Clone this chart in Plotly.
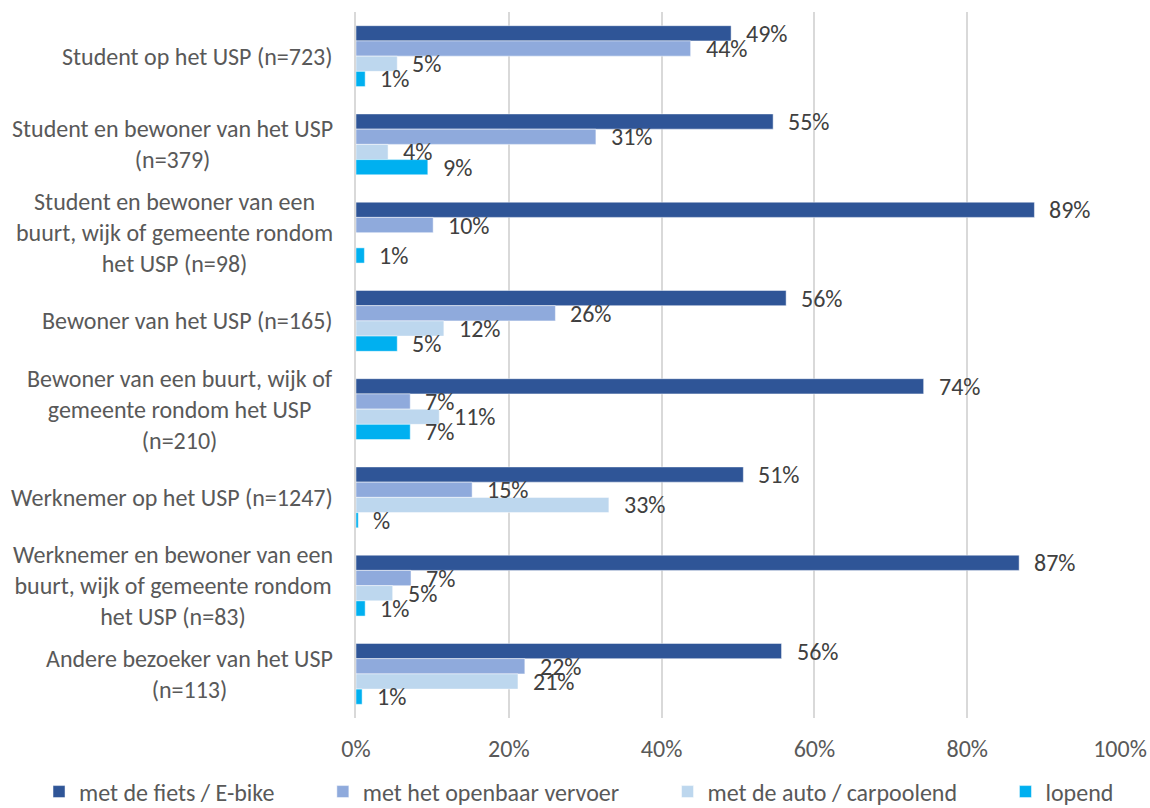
import plotly.graph_objects as go

categories = [
    "Student op het USP (n=723)",
    "Student en bewoner van het USP<br>(n=379)",
    "Student en bewoner van een<br>buurt, wijk of gemeente rondom<br>het USP (n=98)",
    "Bewoner van het USP (n=165)",
    "Bewoner van een buurt, wijk of<br>gemeente rondom het USP<br>(n=210)",
    "Werknemer op het USP (n=1247)",
    "Werknemer en bewoner van een<br>buurt, wijk of gemeente rondom<br>het USP (n=83)",
    "Andere bezoeker van het USP<br>(n=113)",
]

series_names = ["met de fiets / E-bike", "met het openbaar vervoer",
                "met de auto / carpoolend", "lopend"]

fiets = [49.1, 54.6, 88.8, 56.3, 74.3, 50.7, 86.8, 55.7]
ov = [43.8, 31.4, 10.1, 26.1, 7.1, 15.2, 7.2, 22.1]
auto = [5.4, 4.2, 0.0, 11.5, 10.9, 33.1, 4.8, 21.2]
lopend = [1.2, 9.4, 1.1, 5.4, 7.1, 0.3, 1.2, 0.8]

fiets_labels = ["49%", "55%", "89%", "56%", "74%", "51%", "87%", "56%"]
ov_labels = ["44%", "31%", "10%", "26%", "7%", "15%", "7%", "22%"]
auto_labels = ["5%", "4%", "", "12%", "11%", "33%", "5%", "21%"]
lopend_labels = ["1%", "9%", "1%", "5%", "7%", "%", "1%", "1%"]

x_ticks = [0, 20, 40, 60, 80, 100]
x_tick_labels = ["0%", "20%", "40%", "60%", "80%", "100%"]

colors = ["#2F5597", "#8FAADC", "#BDD7EE", "#00B0F0"]
legend_pad = ["\u00a0" * 8, "\u00a0" * 8, "\u00a0" * 8, ""]

FONT = "Calibri, Carlito, Lato, sans-serif"
FS = 24

values = [fiets, ov, auto, lopend]
labels = [fiets_labels, ov_labels, auto_labels, lopend_labels]

positions = list(range(len(categories)))
bar_w = 0.69 / 4

fig = go.Figure()
annotations = []
for i, (name, vals, labs, col) in enumerate(zip(series_names, values, labels, colors)):
    off = -2 * bar_w + i * bar_w
    fig.add_trace(go.Bar(
        name=name + legend_pad[i],
        x=vals, y=positions, orientation="h",
        width=bar_w, offset=off,
        marker=dict(color=col, line=dict(color="rgba(255,255,255,0.6)", width=0.8)),
        hoverinfo="x+name",
    ))
    for p, v, t in zip(positions, vals, labs):
        if t:
            annotations.append(dict(
                x=v, y=p + off + bar_w / 2, xref="x", yref="y",
                text=t, showarrow=False, xanchor="left", yanchor="middle",
                xshift=13, font=dict(family=FONT, size=FS, color="#404040"),
            ))

for p, c in zip(positions, categories):
    annotations.append(dict(
        x=0, y=p, xref="paper", yref="y", text=c, showarrow=False,
        xanchor="right", yanchor="middle", align="center", xshift=-21,
        font=dict(family=FONT, size=FS, color="#595959"),
    ))

fig.update_layout(
    width=1150, height=808,
    margin=dict(l=356, r=30, t=12, b=90, autoexpand=False),
    paper_bgcolor="white", plot_bgcolor="white",
    barmode="overlay",
    showlegend=True,
    legend=dict(
        orientation="h", xref="paper", yref="paper",
        x=-0.4149, xanchor="left", y=-0.1048, yanchor="middle",
        bgcolor="rgba(0,0,0,0)",
        font=dict(family=FONT, size=FS, color="#595959"),
        itemclick=False, itemdoubleclick=False,
        traceorder="normal",
    ),
    annotations=annotations,
    font=dict(family=FONT, size=FS, color="#595959"),
)

fig.update_xaxes(
    range=[0, 100], tickvals=x_ticks, ticktext=x_tick_labels,
    showgrid=True, gridcolor="#D9D9D9", gridwidth=1.5,
    zeroline=False, showline=False,
    ticks="", ticklabelstandoff=14,
    tickfont=dict(family=FONT, size=FS, color="#595959"),
    fixedrange=True,
)
fig.update_yaxes(
    range=[len(categories) - 0.5, -0.5],
    showticklabels=False, showgrid=False, zeroline=False,
    showline=True, linecolor="#D9D9D9", linewidth=1.5,
    fixedrange=True,
)

fig.write_html("out.html", config={"displayModeBar": False},
               post_script="document.body.style.margin='0';")
